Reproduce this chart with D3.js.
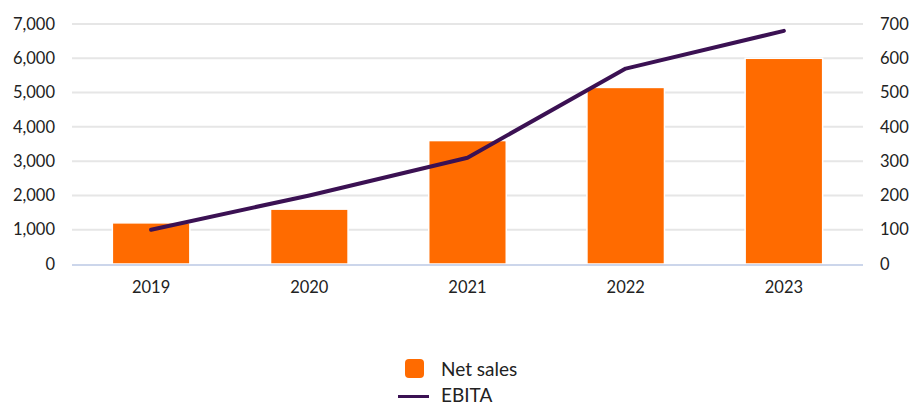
<!DOCTYPE html>
<html>
<head>
<meta charset="utf-8">
<script src="https://cdn.jsdelivr.net/npm/d3@7"></script>
<style>
  html, body { margin: 0; padding: 0; background: #fff; }
  svg { display: block; font-family: Lato, "Open Sans", sans-serif; }
</style>
</head>
<body>
<svg id="chart" width="911" height="406"></svg>
<script>
// Yearly figures
const years = ["2019", "2020", "2021", "2022", "2023"];
const netSales = [1200, 1600, 3600, 5150, 6000];
const ebita = [100, 200, 310, 570, 680];
const leftTicks = [0, 1000, 2000, 3000, 4000, 5000, 6000, 7000];
const rightTicks = [0, 100, 200, 300, 400, 500, 600, 700];
const seriesNames = ["Net sales", "EBITA"];

const orange = "#ff6b00";
const purple = "#3b1153";

const svg = d3.select("#chart");
const margin = { left: 72, right: 48, top: 24, bottom: 142 };
const W = 911, H = 406;
const x0 = margin.left, x1 = W - margin.right;
const yTop = margin.top, yBot = H - margin.bottom;

const x = d3.scaleBand().domain(years).range([x0, x1]).paddingInner(0.51).paddingOuter(0.255);
const xc = d => x(d) + x.bandwidth() / 2;
const yL = d3.scaleLinear().domain([0, 7000]).range([yBot, yTop]);
const yR = d3.scaleLinear().domain([0, 700]).range([yBot, yTop]);

const axisFont = 16.5;

// horizontal gridlines
svg.append("g").selectAll("line").data(leftTicks.slice(1)).join("line")
  .attr("x1", x0).attr("x2", x1)
  .attr("y1", d => yL(d)).attr("y2", d => yL(d))
  .attr("stroke", "#e6e6e6").attr("stroke-width", 2);

// left axis labels
const fmt = d3.format(",");
svg.append("g").call(d3.axisLeft(yL).tickValues(leftTicks).tickFormat(fmt).tickSize(0).tickPadding(17))
  .attr("transform", `translate(${x0},0)`)
  .call(g => g.select(".domain").remove())
  .call(g => g.selectAll("text").attr("font-size", axisFont).attr("fill", "#222").attr("font-family", "Lato, sans-serif"));

// right axis labels
svg.append("g").call(d3.axisRight(yR).tickValues(rightTicks).tickSize(0).tickPadding(17))
  .attr("transform", `translate(${x1},0)`)
  .call(g => g.select(".domain").remove())
  .call(g => g.selectAll("text").attr("font-size", axisFont).attr("fill", "#222").attr("font-family", "Lato, sans-serif"));

// bars
svg.append("g").selectAll("rect").data(years).join("rect")
  .attr("x", d => x(d)).attr("width", x.bandwidth())
  .attr("y", (d, i) => yL(netSales[i]))
  .attr("height", (d, i) => yBot - yL(netSales[i]))
  .attr("fill", orange).attr("stroke", "#fff").attr("stroke-width", 1.5);

// baseline
svg.append("line").attr("x1", x0).attr("x2", x1).attr("y1", yBot + 1).attr("y2", yBot + 1)
  .attr("stroke", "#ccd6eb").attr("stroke-width", 2);

// x axis labels
svg.append("g").attr("transform", `translate(0,${yBot + 1})`)
  .call(d3.axisBottom(x).tickSize(0).tickPadding(16))
  .call(g => g.select(".domain").remove())
  .call(g => g.selectAll("text").attr("font-size", axisFont).attr("fill", "#222").attr("font-family", "Lato, sans-serif"));

// EBITA line
const line = d3.line().x((d, i) => xc(years[i])).y(d => yR(d));
svg.append("path").datum(ebita).attr("d", line)
  .attr("fill", "none").attr("stroke", purple).attr("stroke-width", 4)
  .attr("stroke-linecap", "round").attr("stroke-linejoin", "round");

// legend
const lg = svg.append("g").attr("font-family", "Lato, sans-serif").attr("font-size", 19).attr("fill", "#222");
lg.append("rect").attr("x", 405).attr("y", 359).attr("width", 19).attr("height", 19).attr("rx", 4)
  .attr("fill", orange);
lg.append("text").attr("x", 441).attr("y", 376).text(seriesNames[0]);
lg.append("line").attr("x1", 398).attr("x2", 429).attr("y1", 396.5).attr("y2", 396.5)
  .attr("stroke", purple).attr("stroke-width", 3);
lg.append("text").attr("x", 441).attr("y", 401.5).text(seriesNames[1]);
</script>
</body>
</html>
